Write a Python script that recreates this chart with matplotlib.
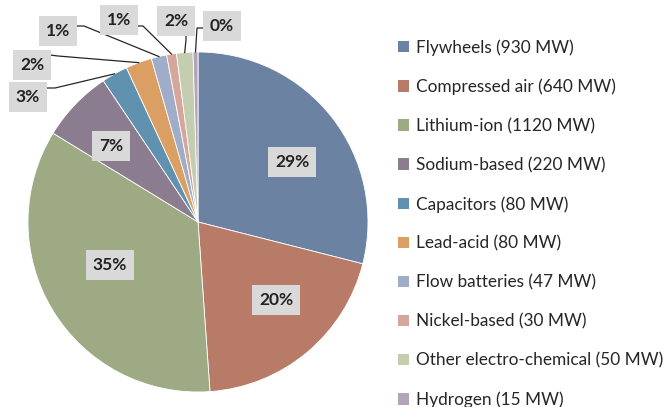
import numpy as np
import matplotlib.pyplot as plt
from matplotlib.patches import Patch

plt.rcParams['font.family'] = ['Lato', 'DejaVu Sans']

# data
names = ["Flywheels", "Compressed air", "Lithium-ion", "Sodium-based", "Capacitors",
         "Lead-acid", "Flow batteries", "Nickel-based", "Other electro-chemical", "Hydrogen"]
mw = [930, 640, 1120, 220, 80, 80, 47, 30, 50, 15]
pct_labels = ["29%", "20%", "35%", "7%", "3%", "2%", "1%", "1%", "2%", "0%"]
colors = ["#6B82A3", "#B77B68", "#9DAA83", "#8B7C8F", "#6092B0",
          "#DB9E63", "#A0ADC9", "#D4A79A", "#C4CDB0", "#B2A5BA"]

W, H = 669, 407
cx, cy, R = 198, 222, 170   # pie centre / radius in pixels


def px(x, y):
    # pixel (from top-left) -> data units of the pie axes
    return (x - cx) / R, (cy - y) / R


fig = plt.figure(figsize=(W / 100, H / 100), dpi=100)
ax = fig.add_axes([0, 0, 1, 1])

wedges, _ = ax.pie(mw, colors=colors, startangle=90, counterclock=False, radius=1,
                   wedgeprops=dict(edgecolor='white', linewidth=0.6))

# pie() resets the limits, so set them afterwards
ax.set_xlim(-cx / R, (W - cx) / R)
ax.set_ylim(-(H - cy) / R, cy / R)
ax.set_aspect('equal')
ax.axis('off')

box = dict(boxstyle='square,pad=0.38', fc='#D9D9D9', ec='none')
txt_kw = dict(fontsize=12.5, fontweight='bold', color='#222222', ha='center', va='center', bbox=box)

# labels that sit inside the slice (label centre in pixels)
inside = {0: (292, 162), 1: (276, 300), 2: (110, 265), 3: (111, 146)}
for i, c in inside.items():
    ax.text(*px(*c), pct_labels[i], **txt_kw)

# small slices: label outside with a leader line (centre, line start, elbow) in pixels
outside = {
    4: ((28, 97), (45, 88), (55, 88)),
    5: ((32, 65), (50, 55), (58, 56)),
    6: ((58, 31), (75, 26), (84, 26)),
    7: ((119, 20), (137, 26), (143, 26)),
    8: ((176, 21), (186, 35), (186, 40)),
    9: ((222, 26), (203, 28), (197, 28)),
}
for i, (c, s, e) in outside.items():
    w = wedges[i]
    a = np.deg2rad((w.theta1 + w.theta2) / 2)
    ex, ey = np.cos(a), np.sin(a)
    p0, p1 = px(*s), px(*e)
    ax.plot([p0[0], p1[0], ex], [p0[1], p1[1], ey], color='#262626', lw=0.9)
    ax.text(*px(*c), pct_labels[i], **txt_kw)

handles = [Patch(facecolor=c, edgecolor='none') for c in colors]
labels = [f"{n} ({v} MW)" for n, v in zip(names, mw)]
fig.legend(handles, labels, loc='upper left', bbox_to_anchor=(398 / W, 1 - 39 / H),
           frameon=False, fontsize=12.4, handlelength=0.63, handleheight=0.63,
           handletextpad=0.4, labelspacing=1.33, borderpad=0, borderaxespad=0,
           labelcolor='#262626')

fig.savefig('out.png', dpi=100)
